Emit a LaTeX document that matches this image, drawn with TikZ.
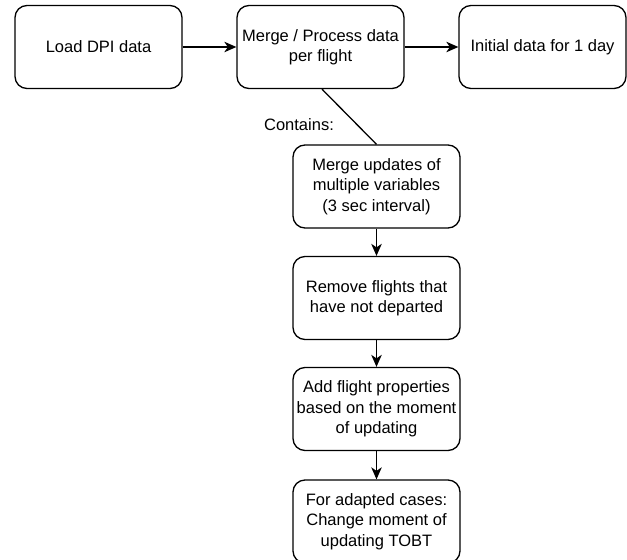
\documentclass[tikz,border=0pt]{standalone}
\usepackage{fontspec}
\setmainfont{Liberation Sans}
\usetikzlibrary{arrows.meta}
\begin{document}
\begin{tikzpicture}[x=1pt,y=-1pt,
  stepbox/.style={draw, rounded corners=12pt, line width=1.3pt,
    minimum width=167pt, minimum height=83pt, align=center,
    font=\fontsize{16.5}{20.5}\selectfont},
  flow/.style={line width=1.3pt, -{Stealth[length=12pt,width=10.5pt,inset=3.5pt]}}]
\useasboundingbox (0,0) rectangle (627,560);

\node[stepbox] (load) at (98.5,47) {Load DPI data};
\node[stepbox] (merge) at (320.5,47) {Merge / Process data\\per flight};
\node[stepbox] (initial) at (542.5,47) {Initial data for 1 day};

\node[stepbox] (updates) at (376.5,186.5) {Merge updates of\\multiple variables\\(3 sec interval)};
\node[stepbox] (remove) at (376.5,298) {Remove flights that\\have not departed};
\node[stepbox] (props) at (376.5,409) {Add flight properties\\based on the moment\\of updating};
\node[stepbox] (adapted) at (376.5,521.5) {For adapted cases:\\Change moment of\\updating TOBT};

\node[font=\fontsize{16.5}{20.5}\selectfont] (contains) at (299,125) {Contains:};

\draw[flow] (load) -- (merge);
\draw[flow] (merge) -- (initial);
\draw[line width=1.3pt] (merge.south) ++(1.5,0) coordinate (split) -- (updates.north);
\draw[flow] (updates) -- (remove);
\draw[flow] (remove) -- (props);
\draw[flow] (props) -- (adapted);
\end{tikzpicture}
\end{document}
